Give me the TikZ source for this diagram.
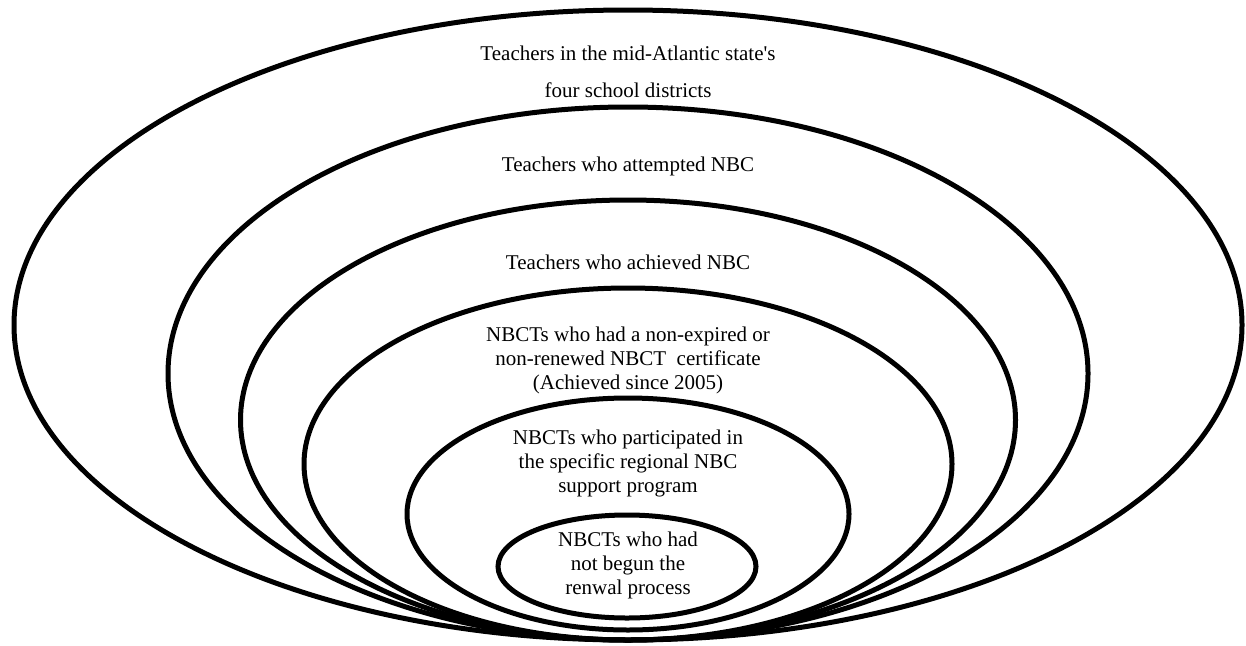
\documentclass[tikz,border=0pt]{standalone}
\usepackage{fontspec}
\setmainfont{Liberation Serif}
\usetikzlibrary{shapes.geometric}

\begin{document}
\begin{tikzpicture}[
    x=1pt, y=-1pt,
    ring/.style={draw=black, ellipse, line width=5pt, inner sep=0pt},
    txt/.style={align=center, font=\fontsize{21}{24}\selectfont}
]
\useasboundingbox (0,0) rectangle (1246,645);
\node[ring, minimum width=1228pt, minimum height=630pt] (districts) at (628,325) {};
\node[ring, minimum width=920pt, minimum height=533pt] (attempted) at (628,373.5) {};
\node[ring, minimum width=775pt, minimum height=440pt] (achieved) at (628,420) {};
\node[ring, minimum width=648pt, minimum height=352pt] (current) at (628,464) {};
\node[ring, minimum width=442pt, minimum height=232pt] (program) at (628,514) {};
\node[ring, minimum width=258pt, minimum height=103pt] (notbegun) at (627,566.5) {};
\node[txt, font=\fontsize{21}{37}\selectfont] (districtstxt) at (628,71.5) {Teachers in the mid-Atlantic state\textquotesingle s\\four school districts};
\node[txt] (attemptedtxt) at (628,166) {Teachers who attempted NBC};
\node[txt] (achievedtxt) at (628,262) {Teachers who achieved NBC};
\node[txt] (currenttxt) at (628,360) {NBCTs who had a non-expired or\\non-renewed NBCT\ \ certificate\\(Achieved since 2005)};
\node[txt] (programtxt) at (628,463) {NBCTs who participated in\\the specific regional NBC\\support program};
\node[txt] (notbeguntxt) at (628,565) {NBCTs who had\\not begun the\\renwal process};
\end{tikzpicture}
\end{document}
